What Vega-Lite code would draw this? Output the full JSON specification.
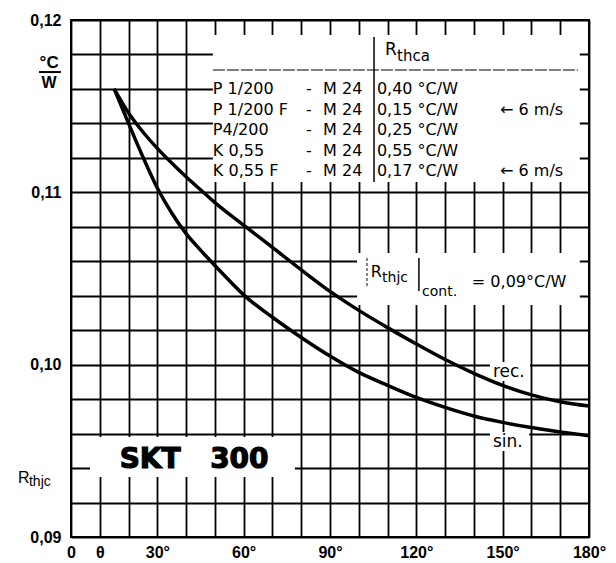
{
  "$schema": "https://vega.github.io/schema/vega-lite/v6.json",
  "width": 518,
  "height": 517,
  "autosize": {"type": "none"},
  "padding": {"left": 71, "top": 20, "right": 27, "bottom": 26},
  "background": "white",
  "resolve": {"axis": {"x": "independent", "y": "independent"}},
  "config": {
    "view": {"stroke": "black", "strokeWidth": 2},
    "axis": {
      "grid": true,
      "gridColor": "black",
      "gridWidth": 1.8,
      "gridOpacity": 1,
      "domain": false,
      "ticks": false,
      "tickSize": 0,
      "labelFont": "Liberation Sans",
      "labelFontWeight": "bold",
      "labelFontSize": 16,
      "labelColor": "black",
      "labelOverlap": false,
      "labelFlush": false,
      "title": null
    }
  },
  "datasets": {
    "curves": [
      {"curve": "rec.", "angle": 15, "rth": 0.1160},
      {"curve": "rec.", "angle": 20, "rth": 0.1146},
      {"curve": "rec.", "angle": 25, "rth": 0.1135},
      {"curve": "rec.", "angle": 30, "rth": 0.11255},
      {"curve": "rec.", "angle": 35, "rth": 0.1117},
      {"curve": "rec.", "angle": 40, "rth": 0.1109},
      {"curve": "rec.", "angle": 45, "rth": 0.11015},
      {"curve": "rec.", "angle": 50, "rth": 0.1094},
      {"curve": "rec.", "angle": 60, "rth": 0.1081},
      {"curve": "rec.", "angle": 70, "rth": 0.1068},
      {"curve": "rec.", "angle": 80, "rth": 0.1055},
      {"curve": "rec.", "angle": 90, "rth": 0.10425},
      {"curve": "rec.", "angle": 100, "rth": 0.10315},
      {"curve": "rec.", "angle": 110, "rth": 0.10215},
      {"curve": "rec.", "angle": 120, "rth": 0.1012},
      {"curve": "rec.", "angle": 130, "rth": 0.1003},
      {"curve": "rec.", "angle": 140, "rth": 0.0995},
      {"curve": "rec.", "angle": 150, "rth": 0.0988},
      {"curve": "rec.", "angle": 160, "rth": 0.09825},
      {"curve": "rec.", "angle": 170, "rth": 0.09785},
      {"curve": "rec.", "angle": 180, "rth": 0.0976},
      {"curve": "sin.", "angle": 15, "rth": 0.1160},
      {"curve": "sin.", "angle": 20, "rth": 0.1140},
      {"curve": "sin.", "angle": 25, "rth": 0.11205},
      {"curve": "sin.", "angle": 30, "rth": 0.11025},
      {"curve": "sin.", "angle": 35, "rth": 0.1088},
      {"curve": "sin.", "angle": 40, "rth": 0.1076},
      {"curve": "sin.", "angle": 45, "rth": 0.10665},
      {"curve": "sin.", "angle": 50, "rth": 0.10575},
      {"curve": "sin.", "angle": 55, "rth": 0.10488},
      {"curve": "sin.", "angle": 60, "rth": 0.10405},
      {"curve": "sin.", "angle": 70, "rth": 0.10275},
      {"curve": "sin.", "angle": 80, "rth": 0.10158},
      {"curve": "sin.", "angle": 90, "rth": 0.1005},
      {"curve": "sin.", "angle": 100, "rth": 0.09955},
      {"curve": "sin.", "angle": 110, "rth": 0.0988},
      {"curve": "sin.", "angle": 120, "rth": 0.0981},
      {"curve": "sin.", "angle": 130, "rth": 0.09752},
      {"curve": "sin.", "angle": 140, "rth": 0.09702},
      {"curve": "sin.", "angle": 150, "rth": 0.09665},
      {"curve": "sin.", "angle": 160, "rth": 0.09635},
      {"curve": "sin.", "angle": 170, "rth": 0.0961},
      {"curve": "sin.", "angle": 180, "rth": 0.09587}
    ]
  },
  "layer": [
    {
      "data": {"name": "curves"},
      "mark": {"type": "line", "strokeWidth": 0, "opacity": 0},
      "encoding": {
        "x": {"field": "angle", "type": "quantitative",
              "scale": {"domain": [0, 180], "nice": false, "zero": false},
              "axis": {"values": [0,10,20,30,40,50,60,70,80,90,100,110,120,130,140,150,160,170,180],
                       "grid": true,
                       "labelPadding": 7,
                       "labelExpr": "datum.value == 0 ? '0' : datum.value == 10 ? 'θ' : (datum.value % 30 == 0 ? datum.value + '°' : '')"}},
        "y": {"field": "rth", "type": "quantitative",
              "scale": {"domain": [0.09, 0.12], "nice": false, "zero": false},
              "axis": {"values": [0.09,0.092,0.094,0.096,0.098,0.1,0.102,0.104,0.106,0.108,0.11,0.112,0.114,0.116,0.118,0.12],
                       "grid": true,
                       "labelPadding": 10,
                       "labelExpr": "abs(datum.value*100 - round(datum.value*100)) < 0.01 ? replace(format(datum.value, '.2f'), '.', ',') : ''"}},
        "detail": {"field": "curve"}
      }
    },
    {"data": {"values": [{}]}, "mark": {"type": "rect", "fill": "white"},
     "encoding": {"x": {"datum": 49.3, "axis": null}, "x2": {"datum": 176.8}, "y": {"datum": 0.11913, "axis": null}, "y2": {"datum": 0.1106}}},
    {"data": {"values": [{}]}, "mark": {"type": "rect", "fill": "white"},
     "encoding": {"x": {"datum": 99.4, "axis": null}, "x2": {"datum": 176.8}, "y": {"datum": 0.10648, "axis": null}, "y2": {"datum": 0.10346}}},
    {"data": {"values": [{}]}, "mark": {"type": "rect", "fill": "white"},
     "encoding": {"x": {"datum": 6.6, "axis": null}, "x2": {"datum": 77.8}, "y": {"datum": 0.0958, "axis": null}, "y2": {"datum": 0.09348}}},
    {"data": {"values": [{}]}, "mark": {"type": "rect", "fill": "white"},
     "encoding": {"x": {"datum": 145.6, "axis": null}, "x2": {"datum": 159.5}, "y": {"datum": 0.10015, "axis": null}, "y2": {"datum": 0.09905}}},
    {"data": {"values": [{}]}, "mark": {"type": "rect", "fill": "white"},
     "encoding": {"x": {"datum": 145.6, "axis": null}, "x2": {"datum": 159.2}, "y": {"datum": 0.09609, "axis": null}, "y2": {"datum": 0.09499}}},
    {
      "data": {"name": "curves"},
      "mark": {"type": "line", "stroke": "black", "strokeWidth": 3.5, "interpolate": "monotone"},
      "encoding": {
        "x": {"field": "angle", "type": "quantitative", "axis": null},
        "y": {"field": "rth", "type": "quantitative", "axis": null},
        "detail": {"field": "curve"}
      }
    },
    {"data": {"values": [{}]}, "mark": {"type": "rule", "stroke": "black", "strokeWidth": 1.2, "strokeDash": [12, 2]},
     "encoding": {"x": {"datum": 49.3, "axis": null}, "x2": {"datum": 176.2}, "y": {"datum": 0.1171, "axis": null}}},
    {"data": {"values": [{}]}, "mark": {"type": "rule", "stroke": "black", "strokeWidth": 1.5},
     "encoding": {"x": {"datum": 105.3, "axis": null}, "y": {"datum": 0.11901, "axis": null}, "y2": {"datum": 0.1106}}},
    {"data": {"values": [{}]}, "mark": {"type": "text", "text": "R", "align": "left", "baseline": "alphabetic", "font": "DejaVu Sans", "fontSize": 17, "fill": "black"},
     "encoding": {"x": {"datum": 109.1, "axis": null}, "y": {"datum": 0.11797, "axis": null}}},
    {"data": {"values": [{}]}, "mark": {"type": "text", "text": "thca", "align": "left", "baseline": "alphabetic", "font": "DejaVu Sans", "fontSize": 15, "fill": "black"},
     "encoding": {"x": {"datum": 113.3, "axis": null}, "y": {"datum": 0.11762, "axis": null}}},
    {"data": {"values": [{}]}, "mark": {"type": "text", "text": ["P 1/200", "P 1/200 F", "P4/200", "K 0,55", "K 0,55 F"], "align": "left", "baseline": "top", "font": "DejaVu Sans", "fontSize": 16, "lineHeight": 20.6, "fill": "black"},
     "encoding": {"x": {"datum": 49.3, "axis": null}, "y": {"datum": 0.11646, "axis": null}}},
    {"data": {"values": [{}]}, "mark": {"type": "text", "text": ["-", "-", "-", "-", "-"], "align": "center", "baseline": "top", "font": "DejaVu Sans", "fontSize": 16, "lineHeight": 20.6, "fill": "black"},
     "encoding": {"x": {"datum": 82.7, "axis": null}, "y": {"datum": 0.11646, "axis": null}}},
    {"data": {"values": [{}]}, "mark": {"type": "text", "text": ["M 24", "M 24", "M 24", "M 24", "M 24"], "align": "left", "baseline": "top", "font": "DejaVu Sans", "fontSize": 16, "lineHeight": 20.6, "fill": "black"},
     "encoding": {"x": {"datum": 87.6, "axis": null}, "y": {"datum": 0.11646, "axis": null}}},
    {"data": {"values": [{}]}, "mark": {"type": "text", "text": ["0,40 °C/W", "0,15 °C/W", "0,25 °C/W", "0,55 °C/W", "0,17 °C/W"], "align": "left", "baseline": "top", "font": "DejaVu Sans", "fontSize": 16, "lineHeight": 20.6, "fill": "black"},
     "encoding": {"x": {"datum": 106.3, "axis": null}, "y": {"datum": 0.11646, "axis": null}}},
    {"data": {"values": [{}]}, "mark": {"type": "text", "text": "← 6 m/s", "align": "left", "baseline": "top", "font": "DejaVu Sans", "fontSize": 16, "fill": "black"},
     "encoding": {"x": {"datum": 149.1, "axis": null}, "y": {"datum": 0.115265, "axis": null}}},
    {"data": {"values": [{}]}, "mark": {"type": "text", "text": "← 6 m/s", "align": "left", "baseline": "top", "font": "DejaVu Sans", "fontSize": 16, "fill": "black"},
     "encoding": {"x": {"datum": 149.1, "axis": null}, "y": {"datum": 0.111675, "axis": null}}},
    {"data": {"values": [{}]}, "mark": {"type": "rule", "stroke": "black", "strokeWidth": 1, "strokeDash": [3, 2]},
     "encoding": {"x": {"datum": 102.85, "axis": null}, "y": {"datum": 0.10619, "axis": null}, "y2": {"datum": 0.10451}}},
    {"data": {"values": [{}]}, "mark": {"type": "rule", "stroke": "black", "strokeWidth": 1.5},
     "encoding": {"x": {"datum": 120.9, "axis": null}, "y": {"datum": 0.10619, "axis": null}, "y2": {"datum": 0.10427}}},
    {"data": {"values": [{}]}, "mark": {"type": "text", "text": "R", "align": "left", "baseline": "alphabetic", "font": "DejaVu Sans", "fontSize": 16, "fill": "black"},
     "encoding": {"x": {"datum": 104.2, "axis": null}, "y": {"datum": 0.10509, "axis": null}}},
    {"data": {"values": [{}]}, "mark": {"type": "text", "text": "thjc", "align": "left", "baseline": "alphabetic", "font": "DejaVu Sans", "fontSize": 14, "fill": "black"},
     "encoding": {"x": {"datum": 108.1, "axis": null}, "y": {"datum": 0.1048, "axis": null}}},
    {"data": {"values": [{}]}, "mark": {"type": "text", "text": "cont.", "align": "left", "baseline": "alphabetic", "font": "DejaVu Sans", "fontSize": 14, "fill": "black"},
     "encoding": {"x": {"datum": 122.0, "axis": null}, "y": {"datum": 0.10398, "axis": null}}},
    {"data": {"values": [{}]}, "mark": {"type": "text", "text": "= 0,09°C/W", "align": "left", "baseline": "alphabetic", "font": "DejaVu Sans", "fontSize": 16, "fill": "black"},
     "encoding": {"x": {"datum": 139.3, "axis": null}, "y": {"datum": 0.10451, "axis": null}}},
    {"data": {"values": [{}]}, "mark": {"type": "text", "text": "rec.", "align": "left", "baseline": "alphabetic", "font": "DejaVu Sans", "fontSize": 17, "fill": "black"},
     "encoding": {"x": {"datum": 146.6, "axis": null}, "y": {"datum": 0.09928, "axis": null}}},
    {"data": {"values": [{}]}, "mark": {"type": "text", "text": "sin.", "align": "left", "baseline": "alphabetic", "font": "DejaVu Sans", "fontSize": 17, "fill": "black"},
     "encoding": {"x": {"datum": 146.6, "axis": null}, "y": {"datum": 0.09522, "axis": null}}},
    {"data": {"values": [{}]}, "mark": {"type": "text", "text": "SKT", "align": "center", "baseline": "alphabetic", "font": "DejaVu Sans", "fontWeight": "bold", "fontSize": 28, "fill": "black", "stroke": "black", "strokeWidth": 1.2},
     "encoding": {"x": {"datum": 27.5, "axis": null}, "y": {"datum": 0.0940, "axis": null}}},
    {"data": {"values": [{}]}, "mark": {"type": "text", "text": "300", "align": "center", "baseline": "alphabetic", "font": "DejaVu Sans", "fontWeight": "bold", "fontSize": 28, "fill": "black", "stroke": "black", "strokeWidth": 1.2},
     "encoding": {"x": {"datum": 58.5, "axis": null}, "y": {"datum": 0.0940, "axis": null}}},
    {"data": {"values": [{}]}, "mark": {"type": "text", "text": "°C", "align": "center", "baseline": "alphabetic", "font": "Liberation Sans", "fontWeight": "bold", "fontSize": 17, "fill": "black"},
     "encoding": {"x": {"datum": -7.6, "axis": null}, "y": {"datum": 0.1172, "axis": null}}},
    {"data": {"values": [{}]}, "mark": {"type": "rule", "stroke": "black", "strokeWidth": 2},
     "encoding": {"x": {"datum": -11.1, "axis": null}, "x2": {"datum": -3.5}, "y": {"datum": 0.11698, "axis": null}}},
    {"data": {"values": [{}]}, "mark": {"type": "text", "text": "W", "align": "center", "baseline": "alphabetic", "font": "Liberation Sans", "fontWeight": "bold", "fontSize": 16, "fill": "black"},
     "encoding": {"x": {"datum": -7.6, "axis": null}, "y": {"datum": 0.11605, "axis": null}}},
    {"data": {"values": [{}]}, "mark": {"type": "text", "text": "R", "align": "left", "baseline": "alphabetic", "font": "Liberation Sans", "fontSize": 16, "fill": "black"},
     "encoding": {"x": {"datum": -18.4, "axis": null}, "y": {"datum": 0.09313, "axis": null}}},
    {"data": {"values": [{}]}, "mark": {"type": "text", "text": "thjc", "align": "left", "baseline": "alphabetic", "font": "Liberation Sans", "fontSize": 14, "fill": "black"},
     "encoding": {"x": {"datum": -14.6, "axis": null}, "y": {"datum": 0.09296, "axis": null}}}
  ]
}
